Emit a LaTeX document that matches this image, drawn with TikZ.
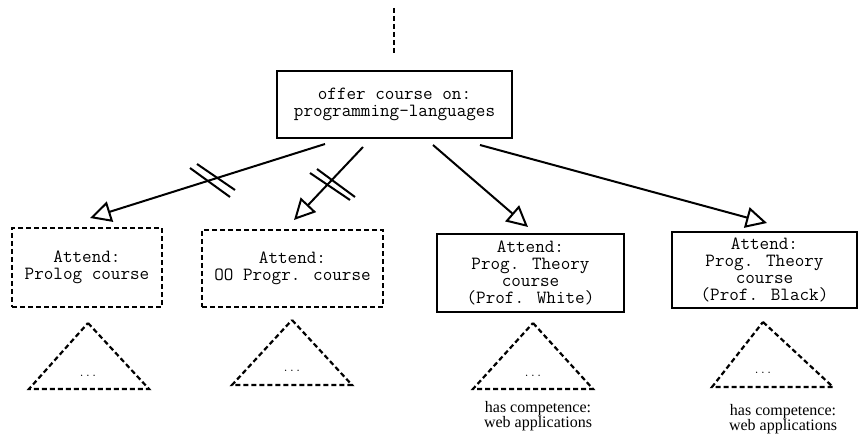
\documentclass[tikz,border=0pt]{standalone}
\usepackage{fontspec}
\setmainfont{Liberation Serif}
\usetikzlibrary{arrows.meta}
\tikzset{
  goal/.style={draw, line width=2.6pt, align=center, inner sep=0pt,
    font=\fontsize{18.6}{17}\selectfont\ttfamily},
  goaldash/.style={goal, line width=2.2pt, dash pattern=on 5pt off 3pt},
  link/.style={line width=2pt, -{Triangle[open, length=21pt, width=21pt, line width=2pt]}},
  cut/.style={line width=2pt},
  subtree/.style={line width=2.2pt, dash pattern=on 5pt off 3pt},
  dots/.style={font=\fontsize{12}{12}\selectfont\ttfamily, inner sep=0pt},
  note/.style={align=center, inner sep=0pt, font=\fontsize{16}{14.5}\selectfont}
}
\begin{document}
\begin{tikzpicture}[x=1pt, y=-1pt]
\useasboundingbox (0,0) rectangle (859,438);

% upper level, continued above
\coordinate (up1) at (394,8);
\coordinate (up2) at (394,53);
\draw[subtree] (up1) -- (up2);

% goal nodes
\node[goal, minimum width=235pt, minimum height=67pt] (offer) at (394.5,104.5)
  {offer course on:\\programming-languages};
\node[goaldash, minimum width=150pt, minimum height=79pt] (prolog) at (87,267.5)
  {Attend:\\Prolog course};
\node[goaldash, minimum width=181pt, minimum height=77pt] (oo) at (292.5,268.5)
  {Attend:\\OO Progr. course};
\node[goal, minimum width=187pt, minimum height=78pt] (white) at (530.5,273)
  {Attend:\\Prog. Theory\\course\\(Prof. White)};
\node[goal, minimum width=185pt, minimum height=76pt] (black) at (764.5,270)
  {Attend:\\Prog. Theory\\course\\(Prof. Black)};

% arrow end points
\coordinate (s1) at (325,144);
\coordinate (s2) at (363,147);
\coordinate (s3) at (433,145);
\coordinate (s4) at (480,145);
\coordinate (t1) at (90,218);
\coordinate (t2) at (294,220);
\coordinate (t3) at (528,227);
\coordinate (t4) at (767,223);

\draw[link] (s1) -- (t1);
\draw[link] (s2) -- (t2);
\draw[link] (s3) -- (t3);
\draw[link] (s4) -- (t4);

% cut marks on the excluded alternatives
\coordinate (c1a) at (190,168); \coordinate (c1b) at (230,197);
\coordinate (c1c) at (197,164); \coordinate (c1d) at (235,190);
\coordinate (c2a) at (310,173); \coordinate (c2b) at (350,200);
\coordinate (c2c) at (317,169); \coordinate (c2d) at (355,197);
\draw[cut] (c1a) -- (c1b);
\draw[cut] (c1c) -- (c1d);
\draw[cut] (c2a) -- (c2b);
\draw[cut] (c2c) -- (c2d);

% subtrees
\draw[subtree] (88,323) -- (149,389) -- (29,389) -- cycle;
\draw[subtree] (292,320) -- (352,385) -- (232,385) -- cycle;
\draw[subtree] (533,323) -- (593,389) -- (473,389) -- cycle;
\draw[subtree] (763,322) -- (833,387) -- (712,387) -- cycle;
\node[dots] (d1) at (88,376) {...};
\node[dots] (d2) at (292,371) {...};
\node[dots] (d3) at (533,376) {...};
\node[dots] (d4) at (763,373) {...};

% annotations
\node[note] (n3) at (538,416) {has competence:\\web applications};
\node[note] (n4) at (783,419) {has competence:\\web applications};
\end{tikzpicture}
\end{document}
